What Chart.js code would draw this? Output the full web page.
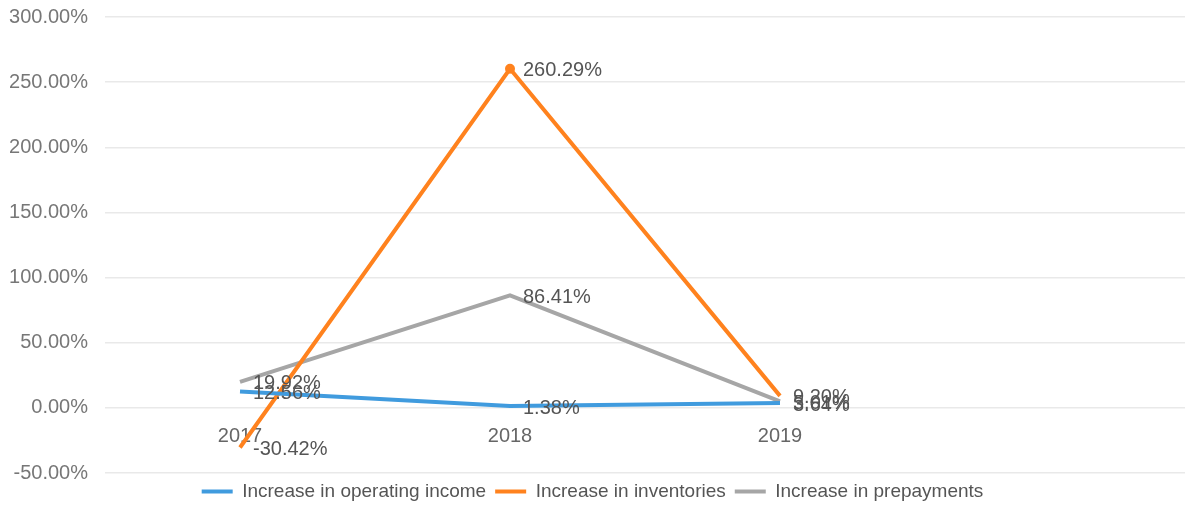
<!DOCTYPE html>
<html>
<head>
<meta charset="utf-8">
<script src="https://cdn.jsdelivr.net/npm/chart.js@4/dist/chart.umd.min.js"></script>
<style>
  html, body { margin: 0; padding: 0; background: #fff; }
  #wrap { width: 1185px; height: 506px; }
</style>
</head>
<body>
<div id="wrap"><canvas id="grafica"></canvas></div>
<script>
const anios = ["2017", "2018", "2019", ""];
const ingreso_operativo = [12.56, 1.38, 3.64, null];
const inventarios = [-30.42, 260.29, 9.2, null];
const prepagos = [19.92, 86.41, 5.01, null];
const nombres_series = [
  "Increase in operating income",
  "Increase in inventories",
  "Increase in prepayments",
];
const fuente = "'Liberation Sans', Arial, sans-serif";

// etiquetas de valor a la derecha de cada punto
const plugin_etiquetas = {
  id: "etiquetasValor",
  afterDatasetsDraw: (chart) => {
    const ctx = chart.ctx;
    ctx.save();
    ctx.font = "20px " + fuente;
    ctx.fillStyle = "#555";
    ctx.textAlign = "left";
    ctx.textBaseline = "middle";
    chart.data.datasets.forEach((ds, i) => {
      const meta = chart.getDatasetMeta(i);
      meta.data.forEach((pt, j) => {
        const v = ds.data[j];
        if (v == null) return;
        ctx.fillText(v.toFixed(2) + "%", pt.x + 13, pt.y + 2);
      });
    });
    ctx.restore();
  },
};

const ctx = document.getElementById("grafica").getContext("2d");
new Chart(ctx, {
  type: "line",
  data: {
    labels: anios,
    datasets: [
      {
        label: nombres_series[0],
        data: ingreso_operativo,
        borderColor: "rgb(64, 155, 222)",
        backgroundColor: "rgb(64, 155, 222)",
        borderWidth: 4,
        pointRadius: 0,
        tension: 0,
      },
      {
        label: nombres_series[1],
        data: inventarios,
        borderColor: "rgb(255, 130, 30)",
        backgroundColor: "rgb(255, 130, 30)",
        borderWidth: 4,
        pointRadius: [0, 3, 0, 0],
        tension: 0,
      },
      {
        label: nombres_series[2],
        data: prepagos,
        borderColor: "rgb(166, 166, 166)",
        backgroundColor: "rgb(166, 166, 166)",
        borderWidth: 4,
        pointRadius: 0,
        tension: 0,
      },
    ],
  },
  options: {
    responsive: true,
    maintainAspectRatio: false,
    animation: false,
    layout: { padding: { top: 17, right: 0, left: 0, bottom: -5 } },
    plugins: {
      legend: {
        position: "bottom",
        labels: {
          usePointStyle: true,
          pointStyle: "line",
          pointStyleWidth: 31,
          boxHeight: 4,
          padding: 9,
          color: "#555",
          font: { size: 19, family: fuente },
        },
      },
      tooltip: { enabled: false },
    },
    scales: {
      x: {
        offset: true,
        position: { y: 0 },
        grid: { display: false },
        border: { display: false },
        ticks: {
          padding: 9,
          color: "#666",
          font: { size: 20, family: fuente },
        },
      },
      y: {
        min: -50,
        max: 300,
        afterFit: (escala) => {
          escala.width = 105;
          escala.paddingTop = 0;
          escala.paddingBottom = 0;
        },
        grid: { color: "#e9e9e9", drawTicks: false, lineWidth: 1.5 },
        border: { display: false },
        ticks: {
          stepSize: 50,
          padding: 17,
          color: "#777",
          font: { size: 20, family: fuente },
          callback: (value) => value.toFixed(2) + "%",
        },
      },
    },
  },
  plugins: [plugin_etiquetas],
});
</script>
</body>
</html>
